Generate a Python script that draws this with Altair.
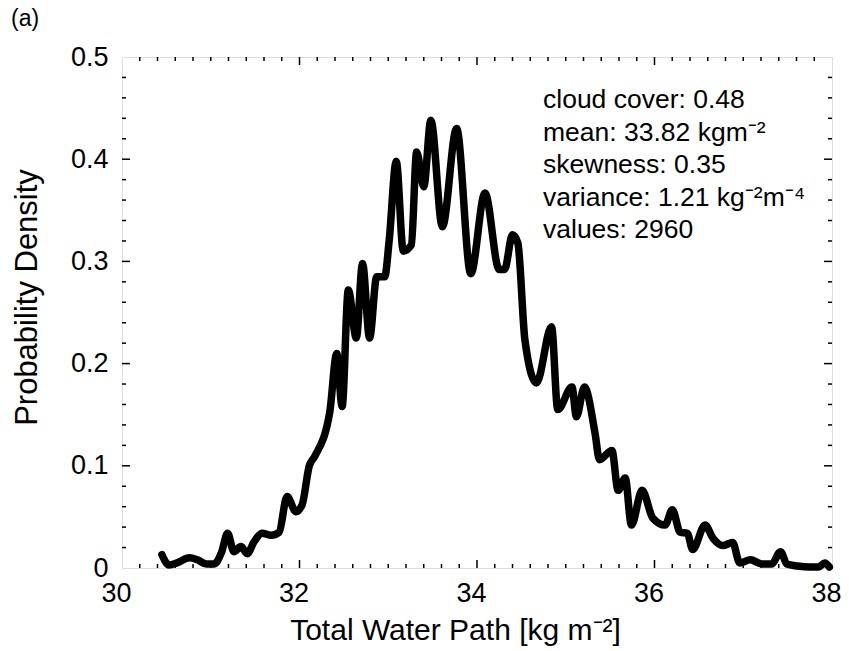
import altair as alt
import pandas as pd
import numpy as np

# ---- data ----
twp = [30.45, 30.53, 30.62, 30.76, 30.85, 30.95, 31.04, 31.12, 31.19, 31.26,
       31.34, 31.41, 31.49, 31.58, 31.68, 31.77, 31.86, 31.96, 32.03, 32.11,
       32.17, 32.34, 32.42, 32.48, 32.55, 32.64, 32.71, 32.79, 32.87, 32.96,
       33.01, 33.09, 33.17, 33.26, 33.32, 33.40, 33.48, 33.61, 33.77, 33.93,
       34.09, 34.25, 34.31, 34.40, 34.46, 34.54, 34.67, 34.84, 34.91, 35.07,
       35.12, 35.21, 35.33, 35.38, 35.52, 35.59, 35.67, 35.74, 35.86, 35.98,
       36.12, 36.20, 36.29, 36.37, 36.43, 36.57, 36.66, 36.77, 36.88, 36.96,
       37.08, 37.21, 37.32, 37.42, 37.49, 37.61, 37.75, 37.85, 37.92, 37.97]
density = [0.013, 0.003, 0.005, 0.010, 0.008, 0.004, 0.004, 0.015, 0.034, 0.016,
           0.021, 0.014, 0.026, 0.034, 0.032, 0.035, 0.070, 0.055, 0.062, 0.100,
           0.109, 0.152, 0.210, 0.158, 0.272, 0.225, 0.298, 0.225, 0.285, 0.285,
           0.320, 0.398, 0.310, 0.316, 0.407, 0.373, 0.438, 0.334, 0.430, 0.288,
           0.367, 0.292, 0.292, 0.326, 0.318, 0.223, 0.181, 0.236, 0.155, 0.177,
           0.148, 0.177, 0.132, 0.106, 0.115, 0.076, 0.088, 0.042, 0.076, 0.049,
           0.042, 0.057, 0.035, 0.034, 0.018, 0.042, 0.029, 0.022, 0.025, 0.005,
           0.008, 0.004, 0.004, 0.016, 0.004, 0.002, 0.001, 0.001, 0.005, 0.001]

x_labels = [30, 32, 34, 36, 38]
y_labels = [0, 0.1, 0.2, 0.3, 0.4, 0.5]
x_major_ticks = [32, 34, 36]
y_major_ticks = [0.1, 0.2, 0.3, 0.4]
x_minor_ticks = [v for v in (round(t, 1) for t in np.arange(30.2, 37.9, 0.2))
                 if v not in (32.0, 34.0, 36.0)]
y_minor_ticks = [v for v in (round(t, 2) for t in np.arange(0.02, 0.49, 0.02))
                 if round(v * 100) % 10 != 0]

stats_lines = ["cloud cover: 0.48",
               "mean: 33.82 kgm\u207b\u00b2",
               "skewness: 0.35",
               "variance: 1.21 kg\u207b\u00b2m\u207b\u2074",
               "values: 2960"]

W, H = 710, 511
FONT = "Liberation Sans"
xs = alt.Scale(domain=[30, 38], nice=False, zero=False)
ys = alt.Scale(domain=[0, 0.5], nice=False, zero=False)

xa = alt.Axis(values=x_labels, title="Total Water Path [kg m\u207b\u00b2]",
              ticks=False, domain=False, grid=False, labelFont=FONT,
              labelFontSize=27, labelColor="black", labelPadding=12,
              labelOffset=-6, labelFlush=False, labelOverlap=False,
              titleFont=FONT, titleFontSize=30,
              titleFontWeight="normal", titleColor="black",
              titleX=333, titleY=62, titleAlign="center", titleBaseline="middle")
ya = alt.Axis(values=y_labels, format="~g", title="Probability Density",
              ticks=False, domain=False, grid=False, labelFont=FONT,
              labelFontSize=27, labelColor="black", labelPadding=14,
              labelFlush=False, labelOverlap=False,
              titleFont=FONT, titleFontSize=31, titleFontWeight="normal",
              titleColor="black", titleX=-95, titleY=240, titleAngle=270,
              titleAlign="center", titleBaseline="middle")

df = pd.DataFrame({"twp": twp, "density": density})

line = alt.Chart(df).mark_line(color="black", strokeWidth=7.5, strokeJoin="round",
                               strokeCap="round", interpolate="monotone").encode(
    x=alt.X("twp:Q", scale=xs, axis=xa),
    y=alt.Y("density:Q", scale=ys, axis=ya),
)

def xticks(vals, length, top):
    d = pd.DataFrame({"twp": vals})
    y0 = 0 if top else H
    y1 = length if top else H - length
    return alt.Chart(d).mark_rule(color="black", strokeWidth=1.5).encode(
        x=alt.X("twp:Q", scale=xs, axis=xa), y=alt.value(y0), y2=alt.value(y1))

def yticks(vals, length, right):
    d = pd.DataFrame({"density": vals})
    x0 = W if right else 0
    x1 = W - length if right else length
    return alt.Chart(d).mark_rule(color="black", strokeWidth=1.5).encode(
        y=alt.Y("density:Q", scale=ys, axis=ya), x=alt.value(x0), x2=alt.value(x1))

ticks = [
    xticks(x_major_ticks, 8, False), xticks(x_major_ticks, 8, True),
    xticks(x_minor_ticks, 4, False), xticks(x_minor_ticks, 4, True),
    yticks(y_major_ticks, 8, False), yticks(y_major_ticks, 8, True),
    yticks(y_minor_ticks, 4, False), yticks(y_minor_ticks, 4, True),
]

stats = alt.Chart(pd.DataFrame({"a": [0]})).mark_text(
    align="left", baseline="middle", font=FONT, fontSize=26.5, color="black",
    lineHeight=32.5).encode(
    x=alt.value(421), y=alt.value(43), text=alt.value(stats_lines))

panel = alt.Chart(pd.DataFrame({"a": [0]})).mark_text(
    align="left", baseline="middle", font=FONT, fontSize=23, color="black").encode(
    x=alt.value(-111), y=alt.value(-38), text=alt.value("(a)"))

chart = alt.layer(line, *ticks, stats, panel).properties(
    width=W, height=H,
    autosize=alt.AutoSizeParams(type="none"),
    padding={"left": 122, "top": 57, "right": 17, "bottom": 83},
).configure_view(stroke="black", strokeWidth=2).configure(background="white")

chart.save("out.html", embed_options={"renderer": "svg", "actions": False})
